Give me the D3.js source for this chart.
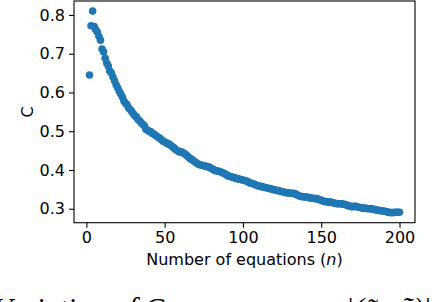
<!DOCTYPE html>
<html>
<head>
<meta charset="utf-8">
<script src="https://cdn.jsdelivr.net/npm/d3@7"></script>
<style>
  html, body { margin: 0; padding: 0; background: #fff; overflow: hidden; }
  svg { display: block; }
</style>
</head>
<body>
<svg id="chart" width="438" height="302"></svg>
<script>
// ---- data ----
const nStart = 2;
const cValues = [
  0.645, 0.772, 0.810, 0.770, 0.762, 0.756, 0.745, 0.735, 0.712, 0.705,
  0.688, 0.676, 0.668, 0.655, 0.650, 0.640, 0.630, 0.620, 0.612, 0.603,
  0.596, 0.588, 0.578, 0.572, 0.568, 0.560, 0.556, 0.551, 0.545, 0.540,
  0.537, 0.530, 0.527, 0.522, 0.518, 0.514, 0.505, 0.503, 0.500, 0.499,
  0.495, 0.493, 0.490, 0.487, 0.484, 0.482, 0.478, 0.474, 0.472, 0.470,
  0.468, 0.466, 0.463, 0.460, 0.457, 0.453, 0.450, 0.448, 0.446, 0.446,
  0.444, 0.441, 0.438, 0.434, 0.430, 0.428, 0.425, 0.422, 0.419, 0.416,
  0.414, 0.413, 0.412, 0.411, 0.410, 0.409, 0.408, 0.406, 0.404, 0.401,
  0.399, 0.398, 0.397, 0.396, 0.395, 0.393, 0.391, 0.389, 0.386, 0.384,
  0.383, 0.382, 0.381, 0.379, 0.378, 0.377, 0.376, 0.375, 0.374, 0.373,
  0.372, 0.370, 0.367, 0.366, 0.365, 0.364, 0.362, 0.360, 0.359, 0.358,
  0.357, 0.356, 0.355, 0.354, 0.353, 0.352, 0.351, 0.350, 0.349, 0.348,
  0.347, 0.346, 0.345, 0.344, 0.343, 0.342, 0.341, 0.341, 0.340, 0.340,
  0.340, 0.339, 0.337, 0.335, 0.333, 0.332, 0.331, 0.331, 0.330, 0.330,
  0.329, 0.328, 0.327, 0.327, 0.326, 0.326, 0.325, 0.323, 0.322, 0.320,
  0.319, 0.318, 0.318, 0.317, 0.317, 0.316, 0.315, 0.314, 0.313, 0.313,
  0.313, 0.313, 0.312, 0.311, 0.310, 0.308, 0.307, 0.306, 0.305, 0.306,
  0.306, 0.305, 0.304, 0.303, 0.302, 0.302, 0.301, 0.301, 0.300, 0.300,
  0.300, 0.299, 0.298, 0.297, 0.296, 0.296, 0.295, 0.294, 0.294, 0.293,
  0.292, 0.291, 0.290, 0.290, 0.290, 0.291, 0.291, 0.291, 0.291
];
const nValues = cValues.map((_, i) => nStart + i);
const xTicks = [0, 50, 100, 150, 200];
const yTicks = [0.3, 0.4, 0.5, 0.6, 0.7, 0.8];
const xLabel = "Number of equations (";
const xLabelVar = "n";
const yLabel = "C";
const captionLeft = "Variation of ";
const captionC = "C";
const captionRight = "|(x̃  ,  ỹ)|";

// ---- layout ----
const plot = { left: 74, right: 415, top: 1, bottom: 222.7 };
const font = "'DejaVu Sans', sans-serif";
const color = "#1f77b4";

const svg = d3.select("#chart");

const xMin = d3.min(nValues), xMax = d3.max(nValues);
const xPad = (xMax - xMin) * 0.05;
const x = d3.scaleLinear().domain([xMin - xPad, xMax + xPad]).range([plot.left, plot.right]);
const yMin = d3.min(cValues), yMax = d3.max(cValues);
const yPad = (yMax - yMin) * 0.05;
const y = d3.scaleLinear().domain([yMin - yPad, yMax + yPad]).range([plot.bottom, plot.top]);

// points
svg.append("g")
  .selectAll("circle")
  .data(nValues.map((n, i) => ({ n, c: cValues[i] })))
  .join("circle")
  .attr("cx", d => x(d.n))
  .attr("cy", d => y(d.c))
  .attr("r", 3.8)
  .attr("fill", color);

// axes
const xAxis = d3.axisBottom(x).tickValues(xTicks).tickFormat(d3.format("d")).tickSize(5).tickPadding(4);
const yAxis = d3.axisLeft(y).tickValues(yTicks).tickFormat(d3.format(".1f")).tickSize(5).tickPadding(4);

const gx = svg.append("g").attr("transform", `translate(0,${plot.bottom})`).call(xAxis);
const gy = svg.append("g").attr("transform", `translate(${plot.left},0)`).call(yAxis);
[gx, gy].forEach(g => {
  g.select(".domain").remove();
  g.selectAll(".tick line").attr("stroke", "#000").attr("stroke-width", 1.1);
  g.selectAll(".tick text").attr("fill", "#000").style("font-family", font).style("font-size", "16px");
});

// frame
svg.append("rect")
  .attr("x", plot.left).attr("y", plot.top)
  .attr("width", plot.right - plot.left).attr("height", plot.bottom - plot.top)
  .attr("fill", "none").attr("stroke", "#000").attr("stroke-width", 1.1);

// labels
const xl = svg.append("text")
  .attr("x", (plot.left + plot.right) / 2).attr("y", 265)
  .attr("text-anchor", "middle")
  .style("font-family", font).style("font-size", "16px").attr("fill", "#000");
xl.append("tspan").text(xLabel);
xl.append("tspan").style("font-style", "italic").text(xLabelVar);
xl.append("tspan").text(")");

svg.append("text")
  .attr("transform", `translate(33,${(plot.top + plot.bottom) / 2}) rotate(-90)`)
  .attr("text-anchor", "middle")
  .style("font-family", font).style("font-size", "16px").attr("fill", "#000")
  .text(yLabel);

// cropped caption below the figure
const cap = svg.append("text")
  .attr("x", -6).attr("y", 318)
  .style("font-family", "'Liberation Serif', 'DejaVu Serif', serif")
  .style("font-style", "italic").style("font-size", "30px").attr("fill", "#000");
cap.append("tspan").text(captionLeft);
cap.append("tspan").text(captionC);
svg.append("text")
  .attr("x", 346).attr("y", 318)
  .style("font-family", "'Liberation Serif', 'DejaVu Serif', serif")
  .style("font-style", "italic").style("font-size", "30px").attr("fill", "#000")
  .text(captionRight);
</script>
</body>
</html>
